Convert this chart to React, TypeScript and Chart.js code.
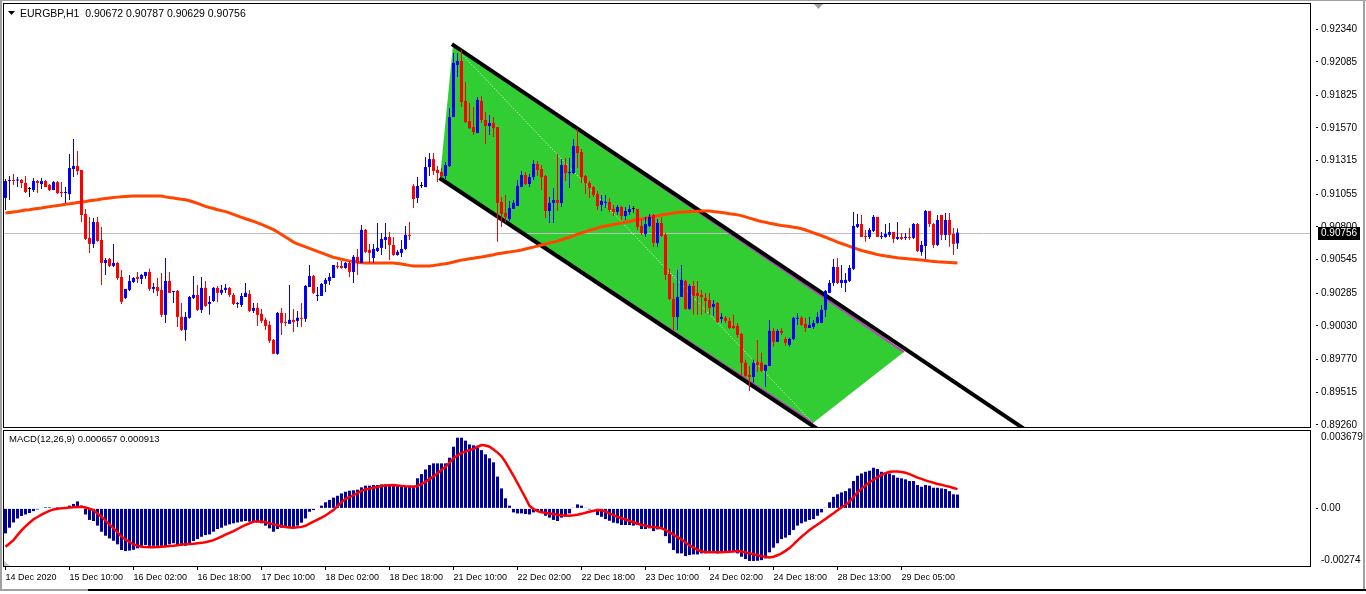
import React, { useEffect, useRef } from 'react';
import { Chart, registerables } from 'chart.js';

Chart.register(...registerables);

const FONT = "'Liberation Sans', Arial, sans-serif";
const TITLE_SIZE = 10.5;
const SUB_SIZE = 9.5;
const YTICK_SIZE = 10;
const XTICK_SIZE = 9;

const symbolTitle = 'EURGBP,H1  0.90672 0.90787 0.90629 0.90756';
const macdTitle = 'MACD(12,26,9) 0.000657 0.000913';
const bidPrice = 0.90756;

const opens = [
  0.91026,0.91157,0.91165,0.91161,0.91165,0.91142,0.91095,0.91087,0.91157,0.91134,
  0.91157,0.91126,0.91087,0.91149,0.91071,0.91064,0.91056,0.91251,0.91274,0.91243,
  0.90901,0.90715,0.90668,0.90838,0.90699,0.90520,0.90551,0.90497,0.90520,0.90411,
  0.90248,0.90310,0.90372,0.90411,0.90396,0.90419,0.90450,0.90318,0.90333,0.90310,
  0.90116,0.90380,0.90294,0.90302,0.90100,0.89999,0.90093,0.90248,0.90271,0.90155,
  0.90326,0.90201,0.90224,0.90326,0.90287,0.90310,0.90326,0.90271,0.90201,0.90193,
  0.90255,0.90279,0.90147,0.90170,0.90124,0.90077,0.90038,0.89921,0.89813,0.90131,
  0.90061,0.90046,0.90077,0.90069,0.90093,0.90085,0.90333,0.90419,0.90263,0.90263,
  0.90357,0.90380,0.90403,0.90497,0.90497,0.90481,0.90520,0.90450,0.90567,0.90520,
  0.90777,0.90621,0.90559,0.90613,0.90637,0.90699,0.90722,0.90660,0.90582,0.90598,
  0.90629,0.90738,0.91118,0.91026,0.91118,0.91110,0.91266,0.91328,0.91243,0.91227,
  0.91196,0.91274,0.91655,0.92060,0.92091,0.91780,0.91624,0.91577,0.91530,0.91780,
  0.91632,0.91585,0.91608,0.91577,0.90994,0.90909,0.90862,0.90940,0.90963,0.91110,
  0.91204,0.91134,0.91188,0.91290,0.91251,0.91196,0.90924,0.90987,0.91010,0.90987,
  0.91282,0.91219,0.91219,0.91429,0.91383,0.91196,0.91142,0.91110,0.91056,0.90971,
  0.90987,0.90994,0.90940,0.90916,0.90955,0.90885,0.90916,0.90940,0.90940,0.90808,
  0.90746,0.90808,0.90893,0.90676,0.90831,0.90738,0.90434,0.90240,0.90100,0.90255,
  0.90380,0.90162,0.90341,0.90287,0.90271,0.90248,0.90232,0.90178,0.90209,0.90085,
  0.90093,0.90069,0.90030,0.90030,0.89968,0.89743,0.89649,0.89633,0.89750,0.89743,
  0.89680,0.89719,0.89991,0.89906,0.89991,0.89929,0.89882,0.89929,0.90085,0.90093,
  0.90046,0.90014,0.90022,0.90053,0.90053,0.90155,0.90287,0.90364,0.90489,0.90364,
  0.90364,0.90380,0.90474,0.90800,0.90823,0.90730,0.90722,0.90769,0.90878,0.90722,
  0.90722,0.90738,0.90761,0.90707,0.90722,0.90715,0.90722,0.90715,0.90823,0.90606,
  0.90652,0.90924,0.90823,0.90660,0.90893,0.90738,0.90854,0.90746,0.90672,
];

const highs = [
  0.91173,0.91196,0.91212,0.91188,0.91173,0.91196,0.91110,0.91181,0.91165,0.91181,
  0.91165,0.91134,0.91157,0.91157,0.91149,0.91110,0.91367,0.91484,0.91391,0.91243,
  0.90940,0.90878,0.90870,0.90878,0.90800,0.90559,0.90559,0.90668,0.90528,0.90466,
  0.90318,0.90427,0.90411,0.90450,0.90434,0.90450,0.90474,0.90364,0.90403,0.90442,
  0.90559,0.90450,0.90302,0.90310,0.90209,0.90139,0.90263,0.90419,0.90349,0.90411,
  0.90380,0.90263,0.90333,0.90341,0.90349,0.90357,0.90333,0.90287,0.90217,0.90287,
  0.90364,0.90310,0.90209,0.90209,0.90162,0.90093,0.90069,0.89929,0.90139,0.90170,
  0.90131,0.90349,0.90162,0.90147,0.90209,0.90349,0.90504,0.90427,0.90333,0.90364,
  0.90403,0.90442,0.90504,0.90528,0.90536,0.90528,0.90536,0.90582,0.90629,0.90815,
  0.90784,0.90668,0.90668,0.90831,0.90753,0.90831,0.90761,0.90722,0.90621,0.90699,
  0.90808,0.90838,0.91134,0.91188,0.91149,0.91344,0.91375,0.91375,0.91274,0.91258,
  0.91305,0.91725,0.92153,0.92153,0.92177,0.91928,0.91765,0.91733,0.91811,0.91819,
  0.91694,0.91671,0.91655,0.91577,0.91033,0.91048,0.91002,0.91010,0.91165,0.91235,
  0.91227,0.91212,0.91321,0.91313,0.91282,0.91204,0.91033,0.91103,0.91367,0.91328,
  0.91336,0.91336,0.91484,0.91562,0.91406,0.91204,0.91157,0.91118,0.91079,0.91048,
  0.91048,0.91026,0.90971,0.90971,0.90963,0.90955,0.90971,0.90963,0.90940,0.90862,
  0.90878,0.90901,0.90901,0.90862,0.90878,0.90753,0.90474,0.90364,0.90466,0.90504,
  0.90388,0.90357,0.90380,0.90380,0.90310,0.90287,0.90287,0.90232,0.90217,0.90131,
  0.90108,0.90093,0.90116,0.90053,0.89976,0.89766,0.89719,0.89766,0.89921,0.89821,
  0.89727,0.90077,0.90014,0.90006,0.90014,0.89945,0.89937,0.90100,0.90131,0.90108,
  0.90093,0.90100,0.90077,0.90139,0.90193,0.90310,0.90388,0.90551,0.90559,0.90504,
  0.90442,0.90504,0.90916,0.90901,0.90893,0.90777,0.90792,0.90893,0.90878,0.90761,
  0.90823,0.90831,0.90761,0.90838,0.90753,0.90753,0.90792,0.90831,0.90831,0.90691,
  0.90932,0.90924,0.90831,0.90893,0.90893,0.90909,0.90909,0.90792,0.90787,
];

const lows = [
  0.90932,0.91010,0.91126,0.91110,0.91103,0.91064,0.91033,0.91071,0.91064,0.91095,
  0.91110,0.91079,0.91087,0.91056,0.91033,0.90987,0.91010,0.91188,0.91204,0.90838,
  0.90699,0.90598,0.90637,0.90684,0.90349,0.90427,0.90489,0.90489,0.90388,0.90201,
  0.90240,0.90302,0.90364,0.90364,0.90357,0.90396,0.90302,0.90287,0.90263,0.90100,
  0.90053,0.90287,0.90209,0.90022,0.89991,0.89914,0.90085,0.90240,0.90147,0.90131,
  0.90178,0.90116,0.90217,0.90217,0.90271,0.90287,0.90255,0.90193,0.90170,0.90178,
  0.90255,0.90139,0.90131,0.90030,0.90053,0.89999,0.89898,0.89813,0.89805,0.89960,
  0.90030,0.90046,0.89983,0.90022,0.90022,0.90061,0.90333,0.90279,0.90224,0.90263,
  0.90294,0.90349,0.90403,0.90474,0.90474,0.90474,0.90411,0.90364,0.90427,0.90520,
  0.90598,0.90520,0.90520,0.90606,0.90582,0.90629,0.90543,0.90575,0.90575,0.90567,
  0.90621,0.90699,0.90947,0.90987,0.91103,0.91110,0.91196,0.91204,0.91149,0.91181,
  0.91173,0.91266,0.91655,0.91966,0.91733,0.91608,0.91562,0.91515,0.91530,0.91608,
  0.91446,0.91515,0.91499,0.90684,0.90800,0.90838,0.90846,0.90940,0.90963,0.91110,
  0.91126,0.91110,0.91165,0.91196,0.91087,0.90870,0.90831,0.90831,0.90924,0.90955,
  0.91157,0.91103,0.91212,0.91258,0.91142,0.91056,0.91026,0.91033,0.90932,0.90924,
  0.90947,0.90916,0.90885,0.90893,0.90854,0.90854,0.90893,0.90909,0.90777,0.90738,
  0.90722,0.90800,0.90645,0.90645,0.90722,0.90388,0.90232,0.89999,0.89999,0.90255,
  0.90155,0.90155,0.90116,0.90116,0.90116,0.90131,0.90116,0.90108,0.90053,0.90053,
  0.90053,0.90006,0.90006,0.89937,0.89649,0.89633,0.89524,0.89587,0.89672,0.89672,
  0.89555,0.89719,0.89867,0.89906,0.89960,0.89875,0.89867,0.89921,0.90038,0.90030,
  0.89983,0.90014,0.90006,0.90046,0.90053,0.90100,0.90287,0.90341,0.90357,0.90326,
  0.90294,0.90372,0.90466,0.90792,0.90722,0.90684,0.90707,0.90761,0.90722,0.90707,
  0.90715,0.90722,0.90676,0.90699,0.90699,0.90699,0.90699,0.90707,0.90606,0.90575,
  0.90551,0.90800,0.90637,0.90652,0.90699,0.90699,0.90645,0.90582,0.90629,
];

const closes = [
  0.91157,0.91165,0.91157,0.91165,0.91142,0.91071,0.91095,0.91157,0.91142,0.91157,
  0.91110,0.91087,0.91149,0.91064,0.91064,0.91071,0.91258,0.91274,0.91235,0.90893,
  0.90707,0.90668,0.90838,0.90691,0.90520,0.90543,0.90497,0.90520,0.90403,0.90217,
  0.90318,0.90380,0.90403,0.90396,0.90427,0.90450,0.90318,0.90333,0.90302,0.90116,
  0.90380,0.90287,0.90302,0.90100,0.89999,0.90100,0.90255,0.90271,0.90155,0.90326,
  0.90186,0.90217,0.90326,0.90287,0.90310,0.90326,0.90271,0.90201,0.90209,0.90263,
  0.90287,0.90147,0.90170,0.90116,0.90069,0.90030,0.89914,0.89813,0.90131,0.90053,
  0.90053,0.90077,0.90061,0.90093,0.90085,0.90341,0.90419,0.90287,0.90271,0.90357,
  0.90388,0.90411,0.90504,0.90489,0.90481,0.90520,0.90450,0.90567,0.90520,0.90777,
  0.90606,0.90598,0.90629,0.90637,0.90707,0.90722,0.90660,0.90582,0.90606,0.90629,
  0.90738,0.90730,0.91017,0.91118,0.91118,0.91266,0.91328,0.91235,0.91219,0.91196,
  0.91282,0.91655,0.92076,0.92091,0.91772,0.91616,0.91569,0.91538,0.91788,0.91632,
  0.91585,0.91608,0.91569,0.90987,0.90901,0.90878,0.90947,0.90987,0.91118,0.91204,
  0.91134,0.91188,0.91290,0.91243,0.91188,0.90924,0.90987,0.91010,0.90987,0.91282,
  0.91219,0.91227,0.91429,0.91375,0.91188,0.91142,0.91103,0.91048,0.90963,0.91002,
  0.90994,0.90932,0.90916,0.90955,0.90885,0.90924,0.90940,0.90940,0.90800,0.90753,
  0.90823,0.90878,0.90676,0.90831,0.90730,0.90427,0.90240,0.90100,0.90255,0.90388,
  0.90162,0.90341,0.90263,0.90263,0.90255,0.90224,0.90170,0.90201,0.90061,0.90100,
  0.90069,0.90014,0.90014,0.89960,0.89743,0.89641,0.89633,0.89743,0.89727,0.89680,
  0.89727,0.89991,0.89906,0.89991,0.89976,0.89898,0.89929,0.90093,0.90093,0.90038,
  0.90014,0.90038,0.90053,0.90100,0.90155,0.90302,0.90364,0.90489,0.90364,0.90388,
  0.90388,0.90481,0.90808,0.90823,0.90722,0.90722,0.90777,0.90878,0.90722,0.90730,
  0.90746,0.90761,0.90707,0.90722,0.90707,0.90722,0.90715,0.90823,0.90613,0.90660,
  0.90924,0.90823,0.90660,0.90854,0.90738,0.90854,0.90738,0.90668,0.90756,
];

const movingAverage = [
  0.90908,0.90913,0.90917,0.90921,0.90926,0.90931,0.90934,0.90939,0.90944,0.90948,
  0.90953,0.90958,0.90962,0.90966,0.90971,0.90976,0.90980,0.90985,0.90990,0.90994,
  0.90998,0.91003,0.91008,0.91012,0.91017,0.91021,0.91025,0.91029,0.91032,0.91035,
  0.91037,0.91039,0.91040,0.91040,0.91040,0.91040,0.91040,0.91040,0.91040,0.91040,
  0.91034,0.91029,0.91025,0.91020,0.91015,0.91011,0.91004,0.90994,0.90983,0.90972,
  0.90960,0.90951,0.90943,0.90934,0.90927,0.90919,0.90910,0.90898,0.90886,0.90875,
  0.90864,0.90854,0.90843,0.90832,0.90820,0.90807,0.90793,0.90779,0.90760,0.90741,
  0.90721,0.90702,0.90682,0.90669,0.90657,0.90645,0.90634,0.90622,0.90610,0.90598,
  0.90587,0.90575,0.90563,0.90556,0.90549,0.90542,0.90536,0.90531,0.90525,0.90521,
  0.90519,0.90519,0.90519,0.90519,0.90519,0.90519,0.90519,0.90519,0.90515,0.90511,
  0.90506,0.90501,0.90497,0.90496,0.90496,0.90496,0.90496,0.90500,0.90505,0.90510,
  0.90514,0.90519,0.90527,0.90535,0.90542,0.90547,0.90552,0.90556,0.90562,0.90566,
  0.90572,0.90578,0.90584,0.90591,0.90596,0.90601,0.90605,0.90610,0.90615,0.90621,
  0.90628,0.90636,0.90643,0.90651,0.90659,0.90667,0.90675,0.90682,0.90690,0.90700,
  0.90710,0.90720,0.90731,0.90743,0.90754,0.90763,0.90773,0.90782,0.90791,0.90801,
  0.90807,0.90813,0.90819,0.90825,0.90831,0.90837,0.90843,0.90850,0.90856,0.90862,
  0.90868,0.90875,0.90881,0.90887,0.90893,0.90899,0.90903,0.90908,0.90913,0.90916,
  0.90917,0.90920,0.90921,0.90923,0.90924,0.90924,0.90924,0.90920,0.90917,0.90913,
  0.90908,0.90903,0.90899,0.90894,0.90888,0.90878,0.90869,0.90860,0.90850,0.90842,
  0.90836,0.90829,0.90823,0.90817,0.90812,0.90808,0.90803,0.90798,0.90794,0.90786,
  0.90776,0.90765,0.90754,0.90743,0.90732,0.90720,0.90707,0.90695,0.90682,0.90671,
  0.90660,0.90649,0.90638,0.90627,0.90617,0.90609,0.90601,0.90593,0.90585,0.90579,
  0.90574,0.90570,0.90565,0.90560,0.90557,0.90554,0.90551,0.90548,0.90545,0.90542,
  0.90539,0.90535,0.90532,0.90529,0.90527,0.90525,0.90523,0.90521,0.90519,
];

const macdHist = [
  -0.00119,-0.00092,-0.00067,-0.00048,-0.00036,-0.00029,-0.00022,-0.00013,-0.00005,0.00002,
  0.00005,0.00005,0.00003,0.00005,0.00005,0.00006,0.00013,0.00021,0.00033,0.00013,
  -0.00029,-0.00055,-0.00060,-0.00082,-0.00111,-0.00130,-0.00143,-0.00154,-0.00171,-0.00198,
  -0.00203,-0.00201,-0.00197,-0.00190,-0.00178,-0.00174,-0.00178,-0.00178,-0.00178,-0.00178,
  -0.00179,-0.00171,-0.00166,-0.00174,-0.00178,-0.00178,-0.00166,-0.00155,-0.00146,-0.00135,
  -0.00127,-0.00124,-0.00111,-0.00098,-0.00092,-0.00082,-0.00076,-0.00071,-0.00067,-0.00063,
  -0.00060,-0.00063,-0.00063,-0.00067,-0.00071,-0.00082,-0.00095,-0.00111,-0.00098,-0.00092,
  -0.00090,-0.00092,-0.00092,-0.00082,-0.00068,-0.00048,-0.00016,-0.00008,0.00000,0.00013,
  0.00029,0.00040,0.00051,0.00060,0.00071,0.00079,0.00084,0.00086,0.00089,0.00100,
  0.00108,0.00108,0.00111,0.00111,0.00114,0.00114,0.00114,0.00111,0.00108,0.00105,
  0.00105,0.00108,0.00108,0.00143,0.00163,0.00185,0.00206,0.00214,0.00214,0.00214,
  0.00214,0.00241,0.00293,0.00336,0.00336,0.00322,0.00304,0.00300,0.00288,0.00277,
  0.00257,0.00238,0.00219,0.00151,0.00095,0.00048,0.00013,-0.00019,-0.00024,-0.00024,
  -0.00027,-0.00029,-0.00019,-0.00013,-0.00019,-0.00035,-0.00044,-0.00055,-0.00060,-0.00044,
  -0.00040,-0.00024,0.00003,0.00019,0.00013,0.00003,-0.00005,0.00000,-0.00032,-0.00040,
  -0.00051,-0.00059,-0.00068,-0.00071,-0.00079,-0.00079,-0.00079,-0.00082,-0.00079,-0.00098,
  -0.00098,-0.00095,-0.00108,-0.00100,-0.00095,-0.00132,-0.00166,-0.00198,-0.00214,-0.00214,
  -0.00227,-0.00222,-0.00219,-0.00219,-0.00214,-0.00214,-0.00211,-0.00211,-0.00214,-0.00209,
  -0.00206,-0.00206,-0.00206,-0.00214,-0.00230,-0.00241,-0.00250,-0.00250,-0.00249,-0.00246,
  -0.00238,-0.00209,-0.00187,-0.00166,-0.00146,-0.00139,-0.00127,-0.00103,-0.00082,-0.00071,
  -0.00063,-0.00055,-0.00051,-0.00035,-0.00019,0.00003,0.00029,0.00055,0.00067,0.00076,
  0.00082,0.00095,0.00130,0.00155,0.00166,0.00174,0.00179,0.00193,0.00187,0.00174,
  0.00170,0.00166,0.00158,0.00146,0.00143,0.00138,0.00130,0.00130,0.00111,0.00103,
  0.00111,0.00108,0.00098,0.00098,0.00095,0.00092,0.00082,0.00067,0.000657,
];

const macdSignal = [
  -0.00182,-0.00167,-0.00151,-0.00127,-0.00105,-0.00086,-0.00068,-0.00052,-0.00041,-0.00030,
  -0.00020,-0.00012,-0.00005,-0.00002,0.00000,0.00002,0.00004,0.00005,0.00007,0.00008,
  0.00004,-0.00002,-0.00008,-0.00024,-0.00040,-0.00058,-0.00077,-0.00095,-0.00114,-0.00134,
  -0.00148,-0.00160,-0.00171,-0.00177,-0.00182,-0.00184,-0.00185,-0.00185,-0.00184,-0.00182,
  -0.00181,-0.00179,-0.00178,-0.00175,-0.00172,-0.00170,-0.00169,-0.00168,-0.00166,-0.00164,
  -0.00161,-0.00156,-0.00151,-0.00143,-0.00134,-0.00125,-0.00117,-0.00108,-0.00098,-0.00088,
  -0.00079,-0.00071,-0.00063,-0.00063,-0.00063,-0.00066,-0.00071,-0.00076,-0.00080,-0.00085,
  -0.00089,-0.00091,-0.00092,-0.00090,-0.00088,-0.00083,-0.00073,-0.00063,-0.00054,-0.00044,
  -0.00034,-0.00021,-0.00008,0.00011,0.00030,0.00045,0.00054,0.00063,0.00073,0.00083,
  0.00090,0.00094,0.00098,0.00102,0.00106,0.00109,0.00110,0.00111,0.00109,0.00107,
  0.00105,0.00104,0.00103,0.00107,0.00116,0.00126,0.00139,0.00152,0.00167,0.00183,
  0.00198,0.00218,0.00239,0.00252,0.00264,0.00270,0.00277,0.00283,0.00293,0.00301,
  0.00299,0.00293,0.00280,0.00265,0.00248,0.00220,0.00188,0.00155,0.00120,0.00085,
  0.00050,0.00012,-0.00003,-0.00013,-0.00018,-0.00021,-0.00024,-0.00027,-0.00030,-0.00033,
  -0.00034,-0.00035,-0.00033,-0.00030,-0.00026,-0.00021,-0.00016,-0.00011,-0.00008,-0.00009,
  -0.00015,-0.00024,-0.00032,-0.00040,-0.00047,-0.00053,-0.00060,-0.00066,-0.00073,-0.00078,
  -0.00082,-0.00087,-0.00089,-0.00091,-0.00094,-0.00103,-0.00114,-0.00125,-0.00137,-0.00148,
  -0.00162,-0.00176,-0.00186,-0.00197,-0.00204,-0.00207,-0.00209,-0.00209,-0.00209,-0.00209,
  -0.00207,-0.00206,-0.00205,-0.00203,-0.00205,-0.00209,-0.00214,-0.00218,-0.00223,-0.00227,
  -0.00230,-0.00233,-0.00230,-0.00223,-0.00214,-0.00202,-0.00189,-0.00171,-0.00152,-0.00135,
  -0.00119,-0.00103,-0.00090,-0.00077,-0.00064,-0.00050,-0.00036,-0.00023,-0.00009,0.00004,
  0.00017,0.00032,0.00054,0.00076,0.00094,0.00109,0.00124,0.00136,0.00149,0.00159,
  0.00167,0.00174,0.00175,0.00175,0.00173,0.00169,0.00163,0.00155,0.00146,0.00140,
  0.00133,0.00127,0.00122,0.00116,0.00112,0.00107,0.00103,0.00097,0.000913,
];

const priceTicks = [0.92340,0.92085,0.91825,0.91570,0.91315,0.91055,0.90800,0.90545,0.90285,0.90030,0.89770,0.89515,0.89260];
const macdTicks = [0.003679, 0, -0.00274];
const timeTickIndex = [0,16,32,48,64,80,96,112,128,144,160,176,192,208,224];
const timeTickLabels = ['14 Dec 2020','15 Dec 10:00','16 Dec 02:00','16 Dec 18:00','17 Dec 10:00','18 Dec 02:00','18 Dec 18:00','21 Dec 10:00','22 Dec 02:00','22 Dec 18:00','23 Dec 10:00','24 Dec 02:00','24 Dec 18:00','28 Dec 13:00','29 Dec 05:00'];

// drawn objects, in (bar index, price)
const channelFill = [{x:108.625,y:0.91181},{x:111.875,y:0.92216},{x:224.6,y:0.89827},{x:201.875,y:0.89275}];
const channelTopEdge = [{x:111.875,y:0.92216},{x:224.6,y:0.89827}];
const channelBottomEdge = [{x:108.625,y:0.91181},{x:201.875,y:0.89275}];
const channelDiagonal = [{x:111.875,y:0.92216},{x:201.875,y:0.89275}];
const trendUpper = [{x:111.6,y:0.92223},{x:258,y:0.89159}];
const trendLower = [{x:108.5,y:0.91181},{x:206,y:0.89166}];

const xMin = -0.375, xMax = 326.125;
const priceMin = 0.892436, priceMax = 0.925345;
const macdMin = -0.00274, macdMax = 0.003679;

const idx = closes.map((_, i) => i);
const candleColor = (i: number) => closes[i] > opens[i] ? '#0000FF' : closes[i] < opens[i] ? '#FF0000' : '#000000';

const noPadV = (s: any) => { s.paddingTop = 0; s.paddingBottom = 0; };

const mainDecor = {
  id: 'mainDecor',
  beforeDatasetsDraw(chart: any) {
    const { ctx, chartArea: a, scales } = chart;
    const x = scales.x, y = scales.y;
    ctx.save();
    ctx.beginPath();
    ctx.rect(a.left, a.top, a.right - a.left, a.bottom - a.top);
    ctx.clip();
    ctx.beginPath();
    channelFill.forEach((p, k) => {
      const px = x.getPixelForValue(p.x), py = y.getPixelForValue(p.y);
      if (k) ctx.lineTo(px, py); else ctx.moveTo(px, py);
    });
    ctx.closePath();
    ctx.fillStyle = '#32CD32';
    ctx.fill();
    const by = Math.round(y.getPixelForValue(bidPrice)) + 0.5;
    ctx.strokeStyle = '#C0C0C0';
    ctx.lineWidth = 1;
    ctx.beginPath();
    ctx.moveTo(a.left, by);
    ctx.lineTo(a.right, by);
    ctx.stroke();
    ctx.restore();
  },
  afterDraw(chart: any) {
    const { ctx, chartArea: a, scales } = chart;
    const y = scales.y;
    ctx.save();
    ctx.strokeStyle = '#000';
    ctx.lineWidth = 1;
    ctx.strokeRect(a.left - 0.5, a.top - 0.5, a.right - a.left + 1, a.bottom - a.top + 1);
    // title
    ctx.fillStyle = '#000';
    ctx.beginPath();
    ctx.moveTo(a.left + 4, 11);
    ctx.lineTo(a.left + 11, 11);
    ctx.lineTo(a.left + 7.5, 15);
    ctx.closePath();
    ctx.fill();
    ctx.font = `${TITLE_SIZE}px ${FONT}`;
    ctx.textAlign = 'left';
    ctx.textBaseline = 'alphabetic';
    ctx.fillText(symbolTitle, a.left + 16, 17);
    // current price label
    const by = Math.round(y.getPixelForValue(bidPrice));
    ctx.font = `${YTICK_SIZE}px ${FONT}`;
    ctx.fillStyle = '#000';
    ctx.fillRect(a.right + 8, by - 6, 42, 13);
    ctx.fillStyle = '#fff';
    ctx.textBaseline = 'middle';
    ctx.fillText(bidPrice.toFixed(5), a.right + 11, by + 0.5);
    // chart shift marker
    ctx.fillStyle = '#A0A0A0';
    ctx.beginPath();
    ctx.moveTo(814, a.top);
    ctx.lineTo(823, a.top);
    ctx.lineTo(818.5, a.top + 5);
    ctx.closePath();
    ctx.fill();
    ctx.restore();
  },
};

const macdDecor = {
  id: 'macdDecor',
  afterDraw(chart: any) {
    const { ctx, chartArea: a } = chart;
    ctx.save();
    ctx.strokeStyle = '#000';
    ctx.lineWidth = 1;
    ctx.strokeRect(a.left - 0.5, a.top - 0.5, a.right - a.left + 1, a.bottom - a.top + 1);
    ctx.fillStyle = '#000';
    ctx.font = `${SUB_SIZE}px ${FONT}`;
    ctx.textAlign = 'left';
    ctx.textBaseline = 'alphabetic';
    ctx.fillText(macdTitle, a.left + 5, a.top + 10.5);
    ctx.fillStyle = '#C8C8C8';
    ctx.beginPath();
    ctx.moveTo(a.left, a.bottom - 5);
    ctx.lineTo(a.left, a.bottom);
    ctx.lineTo(a.left + 6, a.bottom);
    ctx.closePath();
    ctx.fill();
    ctx.restore();
  },
};

function lineSet(data: any[], color: string, width: number, order: number, dash: number[] = []) {
  return {
    type: 'line', data, borderColor: color, borderWidth: width, borderDash: dash,
    pointRadius: 0, pointHoverRadius: 0, fill: false, tension: 0, order, clip: 0,
  };
}

function mainConfig(): any {
  return {
    type: 'bar',
    data: {
      datasets: [
        {
          type: 'bar', label: 'body', data: idx.map(i => ({ x: i, y: [opens[i], closes[i]] })),
          backgroundColor: idx.map(candleColor), barThickness: 3, grouped: false, minBarLength: 1,
          inflateAmount: 0, borderWidth: 0, order: 0, clip: 0,
        },
        {
          type: 'bar', label: 'wick', data: idx.map(i => ({ x: i, y: [lows[i], highs[i]] })),
          backgroundColor: idx.map(candleColor), barThickness: 1, grouped: false, minBarLength: 1,
          inflateAmount: 0, borderWidth: 0, order: 1, clip: 0,
        },
        lineSet(idx.map(i => ({ x: i, y: movingAverage[i] })), '#FF4500', 3, 2),
        lineSet(trendUpper, '#000000', 4, 3),
        lineSet(trendLower, '#000000', 4, 3),
        lineSet(channelDiagonal, '#FFFFFF', 1, 4, [1, 2]),
        lineSet(channelTopEdge, '#C03CC8', 2, 5),
        lineSet(channelBottomEdge, '#C03CC8', 2, 5),
      ],
    },
    options: {
      responsive: false, animation: false, devicePixelRatio: 1, events: [],
      layout: { padding: { left: 4, top: 4, right: 0, bottom: 3 } },
      plugins: { legend: { display: false }, tooltip: { enabled: false }, title: { display: false } },
      scales: {
        x: { type: 'linear', display: false, min: xMin, max: xMax, offset: false, bounds: 'data' },
        y: {
          type: 'linear', position: 'right', min: priceMin, max: priceMax, bounds: 'data', beginAtZero: false,
          afterBuildTicks: (s: any) => { s.ticks = priceTicks.map(v => ({ value: v })); },
          afterFit: (s: any) => { s.width = 56; noPadV(s); },
          grid: { drawOnChartArea: false, drawTicks: true, tickLength: 8, tickColor: '#000', tickBorderDash: [0, 6, 2, 10] },
          border: { display: false },
          ticks: { color: '#000', font: { family: FONT, size: YTICK_SIZE }, padding: 3, autoSkip: false, callback: (v: any) => Number(v).toFixed(5) },
        },
      },
    },
    plugins: [mainDecor],
  };
}

function macdLabel(v: number): any {
  if (v === macdTicks[0]) return ['', String(v)];
  if (v === macdTicks[2]) return [String(v), ''];
  return v.toFixed(2);
}

function macdConfig(): any {
  return {
    type: 'bar',
    data: {
      datasets: [
        {
          type: 'bar', label: 'MACD', data: idx.map(i => ({ x: i, y: macdHist[i] })),
          backgroundColor: '#00009C', barThickness: 3, grouped: false, inflateAmount: 0, borderWidth: 0, order: 1, clip: 0,
        },
        lineSet(idx.map(i => ({ x: i, y: macdSignal[i] })), '#FF0000', 2.5, 0),
      ],
    },
    options: {
      responsive: false, animation: false, devicePixelRatio: 1, events: [],
      layout: { padding: { left: 4, top: 3, right: 0, bottom: 0 } },
      plugins: { legend: { display: false }, tooltip: { enabled: false }, title: { display: false } },
      scales: {
        x: {
          type: 'linear', min: xMin, max: xMax, offset: false, bounds: 'data',
          afterBuildTicks: (s: any) => { s.ticks = timeTickIndex.map(v => ({ value: v })); },
          afterFit: (s: any) => { s.height = 28; s.paddingLeft = 0; s.paddingRight = 0; },
          grid: { drawOnChartArea: false, drawTicks: true, tickLength: 4, tickColor: '#000', offset: false },
          border: { display: false },
          ticks: {
            align: 'start', autoSkip: false, maxRotation: 0, minRotation: 0, padding: 2, color: '#000',
            font: { family: FONT, size: XTICK_SIZE },
            callback: (_v: any, i: number) => timeTickLabels[i],
          },
        },
        y: {
          type: 'linear', position: 'right', min: macdMin, max: macdMax, bounds: 'data', beginAtZero: false,
          afterBuildTicks: (s: any) => { s.ticks = macdTicks.map(v => ({ value: v })); },
          afterFit: (s: any) => { s.width = 56; noPadV(s); },
          grid: {
            drawOnChartArea: false, drawTicks: true, tickLength: 8, tickBorderDash: [0, 6, 2, 10],
            tickColor: (c: any) => (c.tick && c.tick.value === 0 ? '#000' : 'rgba(0,0,0,0)'),
          },
          border: { display: false },
          ticks: { color: '#000', font: { family: FONT, size: YTICK_SIZE }, padding: 3, autoSkip: false, callback: (v: any) => macdLabel(Number(v)) },
        },
      },
    },
    plugins: [macdDecor],
  };
}

export default function App() {
  const mainRef = useRef<HTMLCanvasElement>(null);
  const macdRef = useRef<HTMLCanvasElement>(null);
  useEffect(() => {
    const c1 = new Chart(mainRef.current as HTMLCanvasElement, mainConfig());
    const c2 = new Chart(macdRef.current as HTMLCanvasElement, macdConfig());
    return () => { c1.destroy(); c2.destroy(); };
  }, []);
  const line = (s: any) => <div style={{ position: 'absolute', ...s }} />;
  return (
    <div style={{ position: 'absolute', left: 0, top: 0, width: 1366, height: 594, background: '#fff', overflow: 'hidden' }}>
      <canvas ref={mainRef} width={1366} height={430} style={{ position: 'absolute', left: 0, top: 0, width: 1366, height: 430 }} />
      <canvas ref={macdRef} width={1366} height={166} style={{ position: 'absolute', left: 0, top: 428, width: 1366, height: 166 }} />
      {line({ left: 0, top: 0, width: 1366, height: 1, background: '#A0A0A0' })}
      {line({ left: 0, top: 0, width: 2, height: 591, background: '#A0A0A0' })}
      {line({ left: 1363, top: 0, width: 2, height: 591, background: '#A0A0A0' })}
      {line({ left: 0, top: 589, width: 88, height: 2, background: '#A0A0A0' })}
      {line({ left: 88, top: 589, width: 1278, height: 2, background: '#000' })}
    </div>
  );
}
